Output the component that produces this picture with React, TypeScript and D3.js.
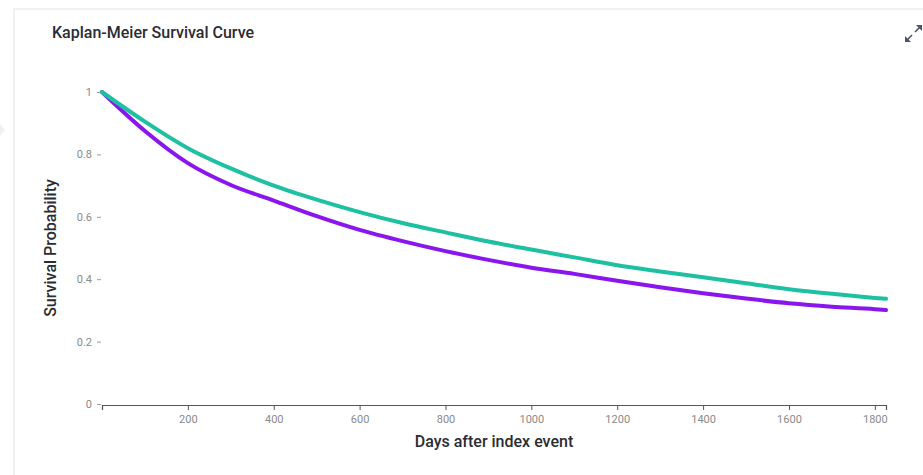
import { useEffect, useRef } from "react";
import * as d3 from "d3";

const width = 923;
const height = 475;
const margin = { top: 92, right: 37, bottom: 71, left: 102 };

// days after index event
const days = [0, 100, 200, 300, 400, 500, 600, 700, 800, 900, 1000, 1100, 1200, 1300, 1400, 1500, 1600, 1700, 1800, 1826];
const tealSurvival = [1, 0.905, 0.82, 0.755, 0.7, 0.655, 0.615, 0.58, 0.55, 0.521, 0.495, 0.47, 0.445, 0.425, 0.406, 0.387, 0.368, 0.353, 0.34, 0.337];
const purpleSurvival = [1, 0.875, 0.772, 0.702, 0.652, 0.602, 0.558, 0.522, 0.49, 0.462, 0.437, 0.417, 0.395, 0.374, 0.355, 0.338, 0.323, 0.312, 0.304, 0.301];
const xTicks = [200, 400, 600, 800, 1000, 1200, 1400, 1600, 1800];
const yTicks = [0, 0.2, 0.4, 0.6, 0.8, 1];

const seriesColors = ["#1ec0a2", "#8a16ee"];

function App() {
  const ref = useRef<SVGGElement>(null);

  useEffect(() => {
    const g = d3.select(ref.current);
    g.selectAll("*").remove();

    const innerW = width - margin.left - margin.right;
    const innerH = height - margin.top - margin.bottom;

    const x = d3.scaleLinear().domain([0, 1826]).range([0, innerW]);
    const y = d3.scaleLinear().domain([0, 1]).range([innerH, 0]);

    // y axis: ticks only, no domain line
    const yAxis = g
      .append("g")
      .attr("transform", "translate(-1,0)")
      .call(
        d3
          .axisLeft(y)
          .tickValues(yTicks)
          .tickSize(4)
          .tickPadding(5)
          .tickFormat((d) => String(d))
      );
    yAxis.select(".domain").remove();
    yAxis.selectAll("line").attr("stroke", "#999");
    yAxis
      .selectAll("text")
      .attr("fill", "#8a8a8a")
      .style("font-family", "Roboto, sans-serif")
      .style("font-size", "11px");

    // x axis
    const xAxis = g
      .append("g")
      .attr("transform", `translate(0,${innerH + 1})`)
      .call(
        d3
          .axisBottom(x)
          .tickValues(xTicks)
          .tickSize(5)
          .tickSizeOuter(5)
          .tickPadding(5)
          .tickFormat((d) => String(d))
      );
    xAxis.select(".domain").attr("stroke", "#555").attr("stroke-width", 1.2);
    xAxis.selectAll("line").attr("stroke", "#555");
    xAxis
      .selectAll("text")
      .attr("fill", "#8a8a8a")
      .style("font-family", "Roboto, sans-serif")
      .style("font-size", "11px");

    const line = d3
      .line<number>()
      .x((_, i) => x(days[i]))
      .y((d) => y(d))
      .curve(d3.curveMonotoneX);

    [purpleSurvival, tealSurvival].forEach((series, i) => {
      g.append("path")
        .datum(series)
        .attr("fill", "none")
        .attr("stroke", i === 0 ? seriesColors[1] : seriesColors[0])
        .attr("stroke-width", 4)
        .attr("stroke-linecap", "round")
        .attr("d", line);
    });

    g.append("text")
      .attr("x", innerW / 2)
      .attr("y", innerH + 43)
      .attr("text-anchor", "middle")
      .attr("fill", "#2b2b33")
      .style("font-family", "Roboto, sans-serif")
      .style("font-weight", 500)
      .style("font-size", "16px")
      .text("Days after index event");

    g.append("text")
      .attr("transform", `translate(${50 - margin.left},${156}) rotate(-90)`)
      .attr("text-anchor", "middle")
      .attr("dy", "0.35em")
      .attr("fill", "#2b2b33")
      .style("font-family", "Roboto, sans-serif")
      .style("font-weight", 500)
      .style("font-size", "16px")
      .text("Survival Probability");
  }, []);

  return (
    <svg
      width={width}
      height={height}
      style={{ position: "absolute", left: 0, top: 0, background: "#fff" }}
    >
      <rect x={14} y={9} width={940} height={500} fill="#fff" stroke="#e4e4e4" />
      <path d="M0,124 L5,130 L0,136 Z" fill="#f0f0f0" />
      <text
        x={52}
        y={38}
        fill="#2b2b33"
        style={{ fontFamily: "Roboto, sans-serif", fontWeight: 500, fontSize: "16px" }}
      >
        Kaplan-Meier Survival Curve
      </text>
      <g stroke="#4a5568" strokeWidth={1.6} fill="#4a5568">
        <line x1={907} y1={40} x2={912} y2={35} />
        <path d="M905,42 L905,36 L911,42 Z" stroke="none" />
        <line x1={915} y1={32} x2={920} y2={27} />
        <path d="M922,25 L916,25 L922,31 Z" stroke="none" />
      </g>
      <g ref={ref} transform={`translate(${margin.left},${margin.top})`} />
    </svg>
  );
}

export default App;
